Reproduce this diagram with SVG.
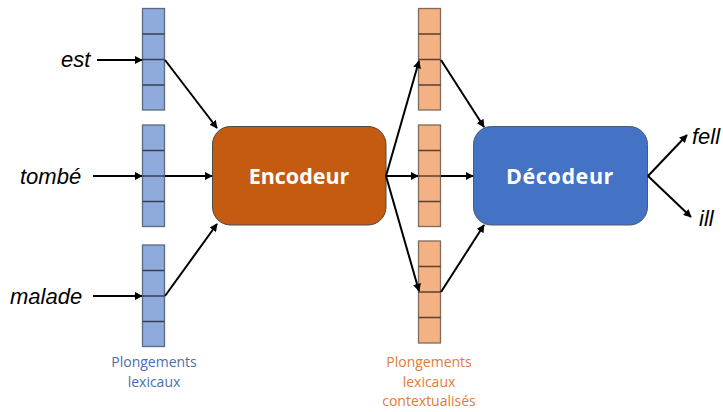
<svg xmlns="http://www.w3.org/2000/svg" width="723" height="412" viewBox="0 0 723 412">
<style>
.w{font-family:"Liberation Sans","Open Sans",sans-serif;font-style:italic;font-size:22px;fill:#000}
.box{font-family:"Open Sans","Liberation Sans",sans-serif;font-weight:bold;font-size:21.5px;fill:#fff;text-anchor:middle}
.cb{fill:#8FAADC;stroke:#5B6B80;stroke-width:1.3}
.co{fill:#F4B183;stroke:#806A5A;stroke-width:1.3}
.cl{stroke:#3A4050;stroke-width:1.3}
.clo{stroke:#5A4030;stroke-width:1.3}
.lb{font-family:"Open Sans","Liberation Sans",sans-serif;font-size:14px;fill:#4A6EB0;text-anchor:middle}
.lo{font-family:"Open Sans","Liberation Sans",sans-serif;font-size:14px;fill:#E07B39;text-anchor:middle}
.c line,.c path{stroke:#000;stroke-width:2;fill:none;marker-end:url(#ah)}
</style>
<defs>
<marker id="ah" viewBox="0 0 10 10" refX="9" refY="5" markerWidth="4" markerHeight="4" orient="auto" markerUnits="strokeWidth">
<path d="M0,0 L10,5 L0,10 z" fill="#000"/>
</marker>
</defs>
<g id="word-est"><text class="w" x="61" y="67">est</text></g>
<g id="word-tombe"><text class="w" x="20" y="184">tombé</text></g>
<g id="word-malade"><text class="w" x="10" y="304">malade</text></g>
<g id="emb-1"><rect class="cb" x="142.5" y="8.5" width="22" height="101.5"/><path class="cl" d="M142.5 34h22M142.5 59.5h22M142.5 85h22"/></g>
<g id="emb-2"><rect class="cb" x="142.5" y="125" width="22" height="101.5"/><path class="cl" d="M142.5 150.5h22M142.5 176h22M142.5 201.5h22"/></g>
<g id="emb-3"><rect class="cb" x="142.5" y="245" width="22" height="101.5"/><path class="cl" d="M142.5 270.5h22M142.5 296h22M142.5 321.5h22"/></g>
<g id="encoder"><rect x="212.5" y="126.5" width="173.5" height="98.5" rx="18" fill="#C55A11" stroke="#4A4A4A" stroke-width="1"/><text class="box" x="299" y="183.5">Encodeur</text></g>
<g id="ctx-1"><rect class="co" x="418.5" y="8.5" width="22" height="101.5"/><path class="clo" d="M418.5 34h22M418.5 59.5h22M418.5 85h22"/></g>
<g id="ctx-2"><rect class="co" x="418.5" y="125" width="22" height="101.5"/><path class="clo" d="M418.5 150.5h22M418.5 176h22M418.5 201.5h22"/></g>
<g id="ctx-3"><rect class="co" x="418.5" y="241" width="22" height="102"/><path class="clo" d="M418.5 266.5h22M418.5 292h22M418.5 317.5h22"/></g>
<g id="decoder"><rect x="473.5" y="126.5" width="174" height="98.5" rx="18" fill="#4472C4" stroke="#4A5A70" stroke-width="1"/><text class="box" x="560" y="183.5" letter-spacing="0.6">Décodeur</text></g>
<g id="out-fell"><text class="w" x="692" y="144">fell</text></g>
<g id="out-ill"><text class="w" x="699" y="226">ill</text></g>
<g id="label-lex"><text class="lb" x="154" y="367">Plongements</text><text class="lb" x="154" y="387">lexicaux</text></g>
<g id="label-ctx"><text class="lo" x="429" y="367">Plongements</text><text class="lo" x="429" y="387">lexicaux</text><text class="lo" x="429" y="406">contextualisés</text></g>
<g class="c" id="connectors">
<line x1="97" y1="60" x2="142" y2="60"/>
<line x1="93" y1="176" x2="142" y2="176"/>
<line x1="93" y1="296" x2="142" y2="296"/>
<line x1="165" y1="60" x2="217" y2="128"/>
<line x1="165" y1="176" x2="212" y2="176"/>
<line x1="165" y1="296" x2="217" y2="224"/>
<line x1="386" y1="176" x2="419" y2="61"/>
<line x1="386" y1="176" x2="418" y2="176"/>
<line x1="386" y1="176" x2="419" y2="291"/>
<line x1="441" y1="60" x2="484" y2="127"/>
<line x1="441" y1="176" x2="473" y2="176"/>
<line x1="441" y1="292" x2="484" y2="225"/>
<line x1="648" y1="176" x2="687" y2="135"/>
<line x1="648" y1="176" x2="691" y2="217"/>
</g>
</svg>
